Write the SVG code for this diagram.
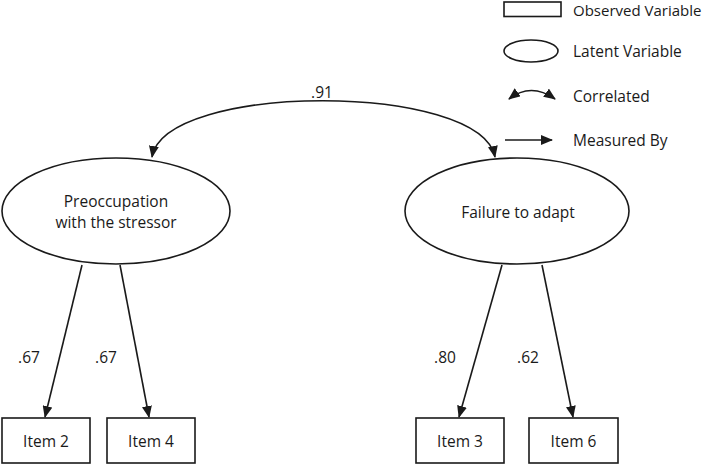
<svg xmlns="http://www.w3.org/2000/svg" width="708" height="464" viewBox="0 0 708 464">
<style>
text{font-family:"Open Sans","Liberation Sans",sans-serif;font-size:15.5px;fill:#1a1a1a}
.c{text-anchor:middle}
.shape{fill:#fff;stroke:#1a1a1a;stroke-width:1.6}
.line{fill:none;stroke:#1a1a1a;stroke-width:1.6}
</style>
<defs>
<marker id="ah" markerUnits="userSpaceOnUse" markerWidth="12" markerHeight="10" refX="11" refY="5" orient="auto-start-reverse" viewBox="0 0 12 10">
<path d="M0,0 L12,5 L0,10 z" fill="#1a1a1a"/>
</marker>
</defs>
<rect width="708" height="464" fill="#fff"/>
<g id="legend">
<rect class="shape" x="504" y="2" width="57" height="14.5"/>
<text x="573" y="16" style="font-size:15px">Observed Variable</text>
<ellipse class="shape" cx="531" cy="51" rx="27" ry="11"/>
<text x="573" y="57">Latent Variable</text>
<path class="line" d="M509,99 Q531,82 555,99" marker-start="url(#ah)" marker-end="url(#ah)"/>
<text x="573" y="102">Correlated</text>
<line class="line" x1="505" y1="140" x2="552" y2="140" marker-end="url(#ah)"/>
<text x="573" y="146">Measured By</text>
</g>
<g id="connectors">
<path class="line" d="M152,157 C165,82 480,82 495,157" marker-start="url(#ah)" marker-end="url(#ah)"/>
<text class="c" x="322" y="98">.91</text>
<line class="line" x1="82" y1="265" x2="45" y2="417" marker-end="url(#ah)"/>
<line class="line" x1="120" y1="265" x2="149" y2="417" marker-end="url(#ah)"/>
<line class="line" x1="502" y1="265" x2="459" y2="417" marker-end="url(#ah)"/>
<line class="line" x1="542" y1="265" x2="573" y2="417" marker-end="url(#ah)"/>
<text class="c" x="29" y="363">.67</text>
<text class="c" x="106" y="363">.67</text>
<text class="c" x="445" y="363">.80</text>
<text class="c" x="528" y="363">.62</text>
</g>
<g id="preoccupation">
<ellipse class="shape" cx="116" cy="211" rx="114" ry="53"/>
<text class="c" x="116" y="207">Preoccupation</text>
<text class="c" x="116" y="228">with the stressor</text>
</g>
<g id="failure">
<ellipse class="shape" cx="517" cy="211" rx="112" ry="53"/>
<text class="c" x="518" y="218">Failure to adapt</text>
</g>
<g id="item2">
<rect class="shape" x="2" y="418" width="88" height="45"/>
<text class="c" x="46" y="447">Item 2</text>
</g>
<g id="item4">
<rect class="shape" x="107" y="418" width="88" height="45"/>
<text class="c" x="151" y="447">Item 4</text>
</g>
<g id="item3">
<rect class="shape" x="416" y="418" width="88" height="45"/>
<text class="c" x="460" y="447">Item 3</text>
</g>
<g id="item6">
<rect class="shape" x="529" y="418" width="89" height="45"/>
<text class="c" x="573.5" y="447">Item 6</text>
</g>
</svg>
